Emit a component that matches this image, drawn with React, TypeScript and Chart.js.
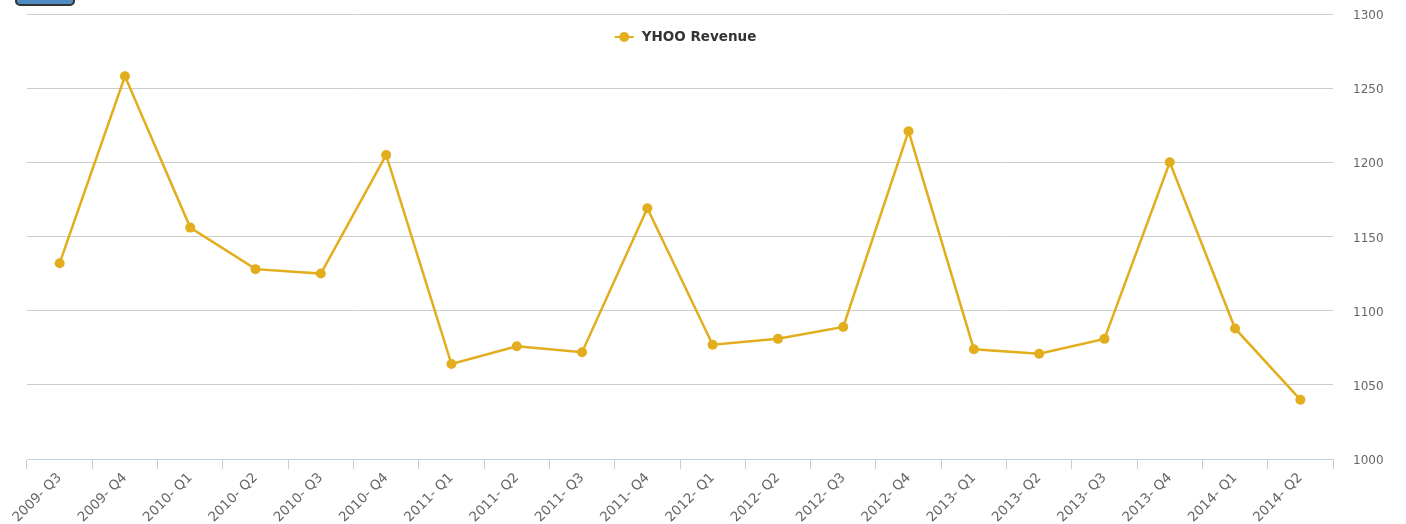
import React, { useEffect, useRef } from "react";
import { Chart, registerables } from "chart.js";

Chart.register(...registerables);

const categories = [
  "2009- Q3", "2009- Q4", "2010- Q1", "2010- Q2", "2010- Q3", "2010- Q4",
  "2011- Q1", "2011- Q2", "2011- Q3", "2011- Q4", "2012- Q1", "2012- Q2",
  "2012- Q3", "2012- Q4", "2013- Q1", "2013- Q2", "2013- Q3", "2013- Q4",
  "2014- Q1", "2014- Q2",
];

const revenue = [
  1132, 1258, 1156, 1128, 1125, 1205, 1064, 1076, 1072, 1169, 1077, 1081,
  1089, 1221, 1074, 1071, 1081, 1200, 1088, 1040,
];

const seriesName = "YHOO Revenue";
const yMin = 1000;
const yMax = 1300;
const yStep = 50;

const LINE = "#e2ae1e";
const FONT = "'DejaVu Sans', sans-serif";

const legendPlugin = {
  id: "topLegend",
  afterDraw(chart: any) {
    const { ctx, chartArea } = chart;
    const cx = (chartArea.left + chartArea.right) / 2 + 5.5;
    const cy = chartArea.top + 23;
    ctx.save();
    ctx.font = `bold 13.5px ${FONT}`;
    const tw = ctx.measureText(seriesName).width;
    const total = 19 + 8 + tw;
    const x0 = cx - total / 2;
    ctx.strokeStyle = LINE;
    ctx.lineWidth = 2;
    ctx.beginPath();
    ctx.moveTo(x0, cy);
    ctx.lineTo(x0 + 19, cy);
    ctx.stroke();
    ctx.fillStyle = LINE;
    ctx.beginPath();
    ctx.arc(x0 + 9.5, cy, 5, 0, Math.PI * 2);
    ctx.fill();
    ctx.fillStyle = "#333333";
    ctx.textBaseline = "middle";
    ctx.textAlign = "left";
    ctx.fillText(seriesName, x0 + 27, cy + 0.5);
    ctx.restore();
  },
};

export default function App() {
  const ref = useRef<HTMLCanvasElement | null>(null);

  useEffect(() => {
    document.body.style.margin = "0";
    if (!ref.current) return;
    const chart = new Chart(ref.current, {
      type: "line",
      data: {
        labels: categories,
        datasets: [
          {
            label: seriesName,
            data: revenue,
            borderColor: LINE,
            backgroundColor: LINE,
            borderWidth: 2.5,
            pointRadius: 5,
            pointStyle: "circle",
            pointBackgroundColor: LINE,
            pointBorderWidth: 0,
            tension: 0,
          },
        ],
      },
      plugins: [legendPlugin],
      options: {
        animation: false,
        responsive: false,
        maintainAspectRatio: false,
        layout: { padding: { top: 14, right: 0, left: 27, bottom: 0 } },
        plugins: {
          tooltip: { enabled: false },
          legend: { display: false },
        },
        scales: {
          x: {
            offset: true,
            grid: {
              offset: true,
              drawOnChartArea: false,
              drawTicks: true,
              tickLength: 10,
              color: "#c0d0e0",
            },
            border: { display: true, color: "#c0d0e0", width: 1 },
            ticks: {
              maxRotation: 45,
              minRotation: 45,
              autoSkip: false,
              padding: 1,
              color: "#666666",
              font: { family: FONT, size: 13.5 },
            },
            afterFit: (scale: any) => {
              scale.height = 65;
            },
          },
          y: {
            position: "right",
            min: yMin,
            max: yMax,
            grid: {
              color: "#cccccc",
              drawTicks: true,
              tickLength: 17,
              tickColor: "rgba(0,0,0,0)",
            },
            border: { display: false },
            ticks: {
              stepSize: yStep,
              padding: 3,
              labelOffset: 2,
              color: "#666666",
              font: { family: FONT, size: 12 },
              callback: (v: any) => String(v),
            },
            afterFit: (scale: any) => {
              scale.width = 73;
            },
          },
        },
      },
    });
    return () => chart.destroy();
  }, []);

  return (
    <div style={{ position: "relative", width: 1406, height: 524, background: "#fff" }}>
      <canvas ref={ref} width={1406} height={524} style={{ display: "block" }} />
      <div
        style={{
          position: "absolute",
          left: 15,
          top: -8,
          width: 56,
          height: 10,
          border: "2px solid #333",
          borderRadius: 5,
          background: "#4f8cc4",
        }}
      />
    </div>
  );
}
